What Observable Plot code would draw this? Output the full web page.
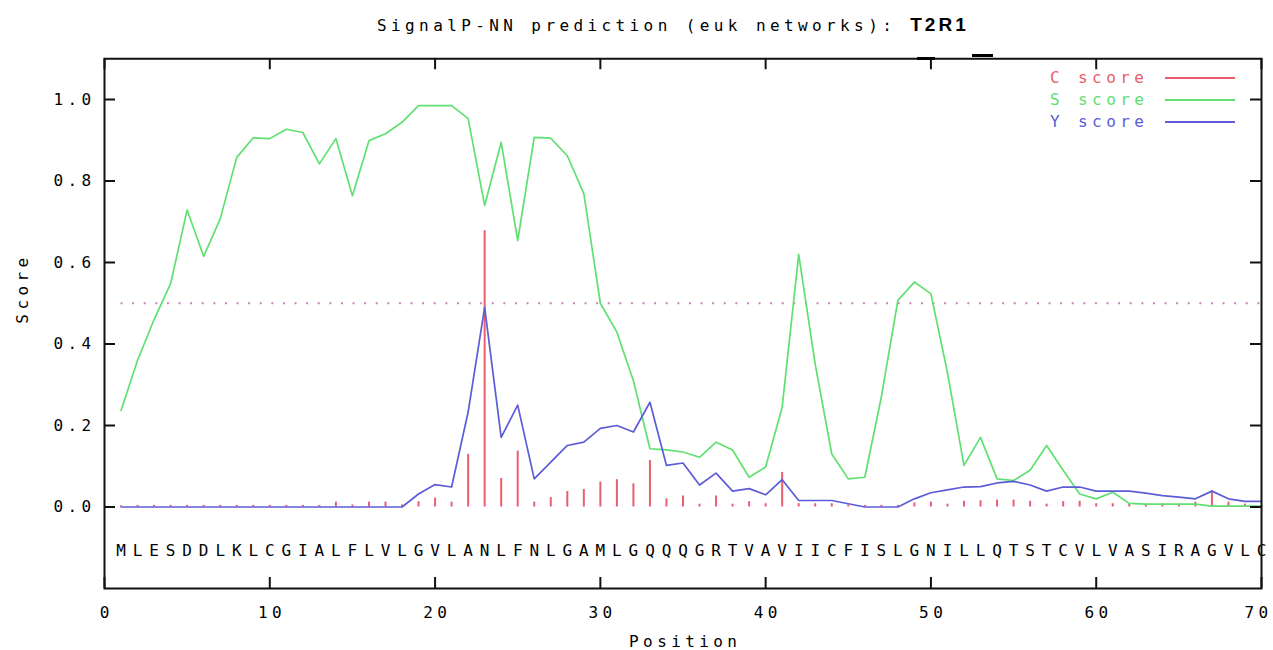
<!DOCTYPE html>
<html><head><meta charset="utf-8">
<script src="https://cdn.jsdelivr.net/npm/d3@7"></script>
<script src="https://cdn.jsdelivr.net/npm/@observablehq/plot@0.6"></script>
<style>
body{margin:0;background:#fff;}
#wrap{position:relative;width:1273px;height:650px;overflow:hidden;}
#title{position:absolute;left:377px;top:14px;font:16px "DejaVu Sans Mono",monospace;letter-spacing:4.4px;color:#000;white-space:nowrap;line-height:22px;}
#title b{font:bold 19px "Liberation Sans",Arial,sans-serif;letter-spacing:3px;}
#chart{position:absolute;left:0;top:50px;}
#chart svg text{letter-spacing:4.4px;}
.lg{position:absolute;font:16px "DejaVu Sans Mono",monospace;letter-spacing:4.4px;white-space:nowrap;line-height:18px;}
.ll{position:absolute;height:2px;width:70px;}
.art{position:absolute;background:#000;height:3px;}
</style></head><body>
<div id="wrap">
  <div id="title">SignalP-NN prediction (euk networks): <b>T2R1</b></div>
  <div id="chart"></div>
  <div class="art" style="left:917px;top:57px;width:18px"></div>
  <div class="art" style="left:972px;top:54px;width:21px"></div>
  <div id="legend"></div>
</div>
<script>
const residues = "MLESDDLKLCGIALFLVLGVLANLFNLGAMLGQQQGRTVAVIICFISLGNILLQTSTCVLVASIRAGVLC".split("");
const cScore = [0.003,0.004,0.004,0.004,0.004,0.004,0.004,0.004,0.004,0.004,
  0.004,0.004,0.004,0.012,0.005,0.012,0.012,0.005,0.013,0.022,
  0.012,0.129,0.678,0.07,0.137,0.012,0.023,0.038,0.043,0.061,
  0.067,0.057,0.114,0.02,0.027,0.007,0.027,0.007,0.013,0.008,
  0.085,0.008,0.008,0.008,0.005,0.004,0.004,0.004,0.01,0.012,
  0.007,0.014,0.015,0.017,0.017,0.014,0.007,0.013,0.014,0.008,
  0.008,0.007,0.007,0.007,0.007,0.012,0.04,0.012,0.007,0.004];
const sScore = [0.237,0.36,0.46,0.548,0.729,0.615,0.707,0.858,0.906,0.904,
  0.927,0.919,0.842,0.904,0.764,0.899,0.916,0.944,0.985,0.985,
  0.985,0.953,0.740,0.895,0.654,0.907,0.905,0.862,0.769,0.50,
  0.429,0.31,0.143,0.14,0.135,0.122,0.159,0.14,0.073,0.098,
  0.245,0.62,0.35,0.13,0.069,0.073,0.27,0.507,0.552,0.523,
  0.33,0.102,0.171,0.069,0.065,0.09,0.151,0.09,0.032,0.02,
  0.036,0.009,0.007,0.007,0.007,0.007,0.002,0.002,0.002,0.002];
const yScore = [0,0,0,0,0,0,0,0,0,0,
  0,0,0,0,0,0,0,0,0.032,0.055,
  0.049,0.233,0.49,0.171,0.25,0.069,0.11,0.151,0.159,0.193,
  0.2,0.184,0.257,0.102,0.108,0.054,0.083,0.039,0.045,0.03,
  0.067,0.016,0.016,0.016,0.008,0,0,0,0.02,0.035,
  0.042,0.049,0.05,0.059,0.063,0.054,0.039,0.049,0.049,0.039,
  0.039,0.039,0.034,0.028,0.024,0.02,0.039,0.02,0.014,0.014];
const xTicks = [0,10,20,30,40,50,60,70];
const yTicks = [0.0,0.2,0.4,0.6,0.8,1.0];
const threshold = 0.5;
const seriesNames = ["C score","S score","Y score"];
const seriesColors = ["#e8606c","#60e070","#5c5cd8"];

const data = residues.map((r,i)=>({pos:i+1, res:r, c:cScore[i], s:sScore[i], y:yScore[i]}));

const W = 1273, H = 600, mL = 104, mR = 12, mT = 8.25, mB = 62;
const pw = W - mL - mR, ph = H - mT - mB, tk = 11;
const innerTicks = xTicks.slice(0, -1), lastTick = xTicks.slice(-1);

const chart = Plot.plot({
  width: W, height: H,
  marginLeft: mL, marginRight: mR, marginTop: mT, marginBottom: mB,
  style: {fontFamily: "'DejaVu Sans Mono', monospace", fontSize: "16px", color: "#000", background: "#fff", overflow: "visible"},
  x: {domain: [0,70]},
  y: {domain: [-0.2,1.1]},
  marks: [
    Plot.ruleY([threshold], {x1: data[0].pos, x2: data[data.length-1].pos, stroke: "#c884b8", strokeWidth: 2, strokeDasharray: "2,9.6"}),
    Plot.ruleX(data, {x: "pos", y1: 0, y2: "c", stroke: seriesColors[0], strokeWidth: 2}),
    Plot.line(data, {x: "pos", y: "s", stroke: seriesColors[1], strokeWidth: 1.7}),
    Plot.line(data, {x: "pos", y: "y", stroke: seriesColors[2], strokeWidth: 1.7}),
    Plot.text(data, {x: "pos", text: "res", frameAnchor: "bottom", dy: -38, dx: 2.2, lineAnchor: "middle", fill: "#000"}),
    Plot.frame({stroke: "#111", strokeWidth: 2}),
    Plot.tickY(yTicks, {y: d=>d, insetRight: pw - tk, stroke: "#111", strokeWidth: 2}),
    Plot.tickY(yTicks, {y: d=>d, insetLeft: pw - tk, stroke: "#111", strokeWidth: 2}),
    Plot.tickX(xTicks, {x: d=>d, insetTop: ph - tk, stroke: "#111", strokeWidth: 2}),
    Plot.tickX(xTicks, {x: d=>d, insetBottom: ph - tk, stroke: "#111", strokeWidth: 2}),
    Plot.axisX(innerTicks, {anchor: "bottom", tickSize: 0, tickPadding: 18, dx: 2.2, label: null, tickFormat: d=>String(d)}),
    Plot.axisX(lastTick, {anchor: "bottom", tickSize: 0, tickPadding: 18, dx: -3, label: null, tickFormat: d=>String(d)}),
    Plot.axisY(yTicks, {anchor: "left", tickSize: 0, tickPadding: 9, label: null, tickFormat: d=>d.toFixed(1)}),
    Plot.text(["Position"], {frameAnchor: "bottom", dy: 53, dx: 2.2, lineAnchor: "middle"}),
    Plot.text(["Score"], {frameAnchor: "left", dx: -82, dy: 0, rotate: -90, lineAnchor: "middle"})
  ]
});
document.getElementById("chart").appendChild(chart);

const lg = document.getElementById("legend");
seriesNames.forEach((n,i)=>{
  const yc = 78 + 22*i;
  const t = document.createElement("div");
  t.className = "lg"; t.textContent = n; t.style.color = seriesColors[i];
  t.style.left = "1050px"; t.style.top = (yc - 9) + "px";
  lg.appendChild(t);
  const l = document.createElement("div");
  l.className = "ll"; l.style.background = seriesColors[i];
  l.style.left = "1165px"; l.style.top = (yc - 1) + "px";
  lg.appendChild(l);
});
</script>
</body></html>
